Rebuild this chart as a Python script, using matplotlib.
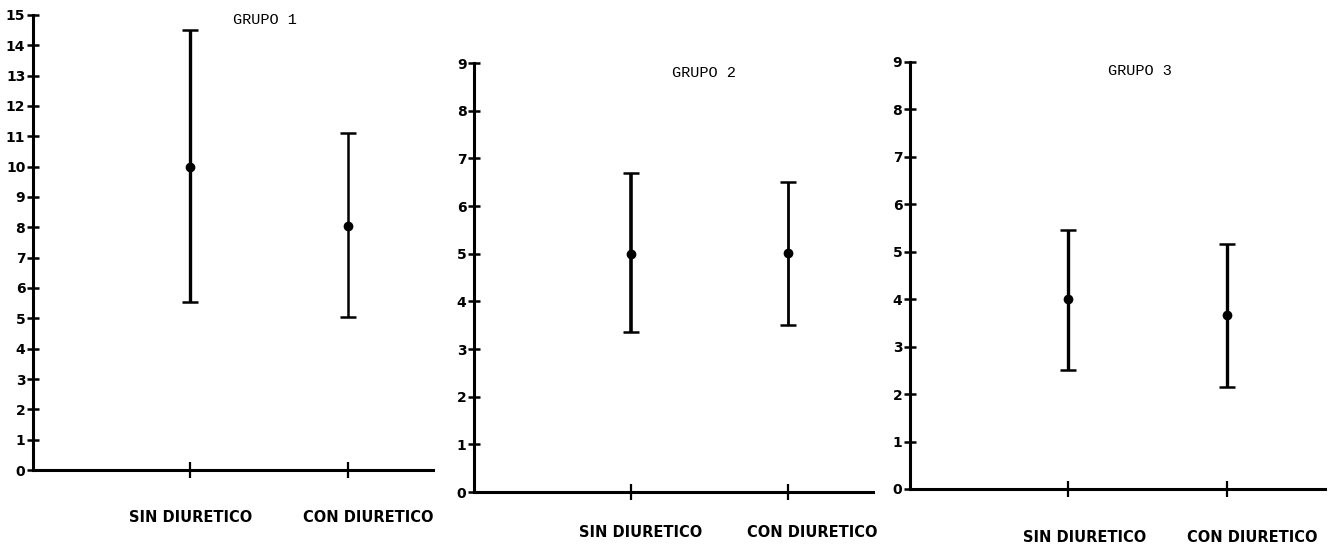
import numpy as np
import matplotlib
matplotlib.use("Agg")
from matplotlib import pyplot as plt
import matplotlib.transforms as mtransforms

# data
groups = ["GRUPO 1", "GRUPO 2", "GRUPO 3"]
categories = ["SIN DIURETICO", "CON DIURETICO"]
means = [[10.0, 8.05], [5.0, 5.02], [4.0, 3.67]]
upper = [[14.5, 11.1], [6.7, 6.5], [5.45, 5.17]]
lower = [[5.55, 5.05], [3.35, 3.5], [2.5, 2.15]]
ymax = [15, 9, 9]

# layout (figure fractions) for each panel
rects = [[0.0247, 0.1376, 0.2996, 0.8349],
         [0.3551, 0.0972, 0.2989, 0.7872],
         [0.6816, 0.1028, 0.3109, 0.7835]]
xright = [2.54, 2.54, 2.62]
label_dx = [[0.0, 0.13], [0.06, 0.15], [0.1, 0.16]]
label_y = [-0.105, -0.095, -0.113]
title_x = [0.58, 0.575, 0.555]
title_y = [0.99, 0.977, 0.979]
bar_lw = [[2.4, 1.8], [2.6, 2.0], [2.4, 2.4]]

fig = plt.figure(figsize=(13.35, 5.45), dpi=100)

for i in range(3):
    ax = fig.add_axes(rects[i])
    xs = np.arange(1, len(categories) + 1)
    for j, x in enumerate(xs):
        m = means[i][j]
        err = [[m - lower[i][j]], [upper[i][j] - m]]
        ax.errorbar([x], [m], yerr=err, fmt='o', color='black', ms=6,
                    elinewidth=bar_lw[i][j], capsize=6, capthick=1.8)
    ax.set_xlim(0, xright[i])
    ax.set_ylim(0, ymax[i])
    ax.set_yticks(range(ymax[i] + 1))
    ax.set_xticks(xs)
    ax.set_xticklabels([])
    for s in ['top', 'right']:
        ax.spines[s].set_visible(False)
    for s in ['left', 'bottom']:
        ax.spines[s].set_linewidth(2.2)
        ax.spines[s].set_clip_on(False)
    ax.tick_params(axis='y', direction='inout', length=9, width=1.8, pad=1,
                   labelsize=10)
    ax.tick_params(axis='x', direction='inout', length=12, width=1.6)
    for lab in ax.get_yticklabels():
        lab.set_fontweight('bold')
    ax.patch.set_alpha(0)
    trans = mtransforms.blended_transform_factory(ax.transData, ax.transAxes)
    for j, x in enumerate(xs):
        ax.text(x + label_dx[i][j], label_y[i], categories[j], transform=trans,
                ha='center', va='center', fontsize=10.5, fontweight='bold')
    ax.text(title_x[i], title_y[i], groups[i], transform=ax.transAxes,
            ha='center', va='center', fontsize=11, family='Liberation Mono')

fig.savefig("out.png", dpi=100)
